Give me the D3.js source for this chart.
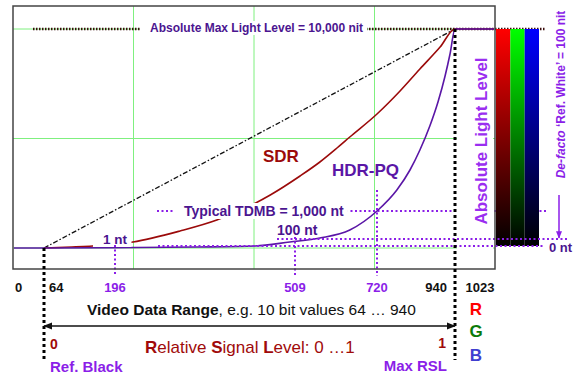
<!DOCTYPE html>
<html lang="en">
  <head>
    <meta charset="UTF-8" />
    <title>SDR vs HDR-PQ</title>
    <script src="https://cdn.jsdelivr.net/npm/d3@7"></script>
    <style>
      body { margin: 0; background: #fff; }
      text { font-family: "Liberation Sans", Arial, sans-serif; }
    </style>
  </head>
  <body>
    <svg id="chart" width="578" height="374"></svg>
    <script>
      // 10 bit code values shown on the axis (schematic spacing)
      const codeTicks = [0, 64, 196, 509, 720, 940, 1023];
      const markedCodes = [196, 509, 720];
      // light levels in nit
      const nitLevels = [0, 1, 100, 1000, 10000];
      const maxNit = 10000;
      // marker pairs: code value -> nit
      const markCodes = [196, 509, 720];
      const markNits = [1, 100, 1000];
      const markLabels = ["1 nt", "100 nt", "Typical TDMB = 1,000 nt"];

      // curves as [code value, nit]
      const pqCurve = [[0, 0], [64, 0], [196, 0.2], [340, 0.5], [440, 1], [500, 58], [573, 132],
        [650, 389], [720, 1000], [776, 2038], [813, 3027], [841, 4016], [869, 5203],
        [892, 6390], [912, 7676], [926, 8764], [940, 10000], [1023, 10000]];
      const sdrCurve = [[64, 0], [116, 0.5], [168, 8], [227, 57], [309, 357], [373, 710],
        [466, 1791], [522, 2731], [573, 3423], [617, 4115], [650, 4659], [720, 5797],
        [785, 6934], [841, 8022], [898, 9110], [940, 10000], [1023, 10000]];
      const linearRef = [[64, 0], [940, 10000]];
      const channels = ["R", "G", "B"];

      const svg = d3.select("#chart");
      const purple = "#8b1ee8", dark = "#4b1590", red = "#a00a0a";

      // piecewise scales, the drawing is not to scale
      let x = d3.scaleLinear().domain(codeTicks).range([14, 44, 115, 295, 377, 455, 494]);
      let y = d3.scaleLinear().domain(nitLevels).range([248, 246, 239, 211, 29]);
      let gx = d3.scaleLinear().domain([0, 4]).range([13, 495]);
      let gy = d3.scaleLinear().domain([0, 2]).range([y(0), y(maxNit)]);

      svg.append("rect").attr("width", 578).attr("height", 374).attr("fill", "#fff");

      // grid
      svg.append("g").selectAll("line").data([1, 2, 3]).join("line")
        .attr("x1", d => gx(d)).attr("x2", d => gx(d)).attr("y1", 6).attr("y2", 269)
        .attr("stroke", "#7ff07f").attr("stroke-width", 1);
      svg.append("g").selectAll("line").data([0, 1, 2]).join("line")
        .attr("x1", 13).attr("x2", 495).attr("y1", d => gy(d)).attr("y2", d => gy(d))
        .attr("stroke", "#7ff07f").attr("stroke-width", 1);

      // max light level line
      svg.append("line").attr("x1", 33).attr("x2", 545)
        .attr("y1", y(maxNit)).attr("y2", y(maxNit))
        .attr("stroke", "#3a0c0c").attr("stroke-width", 2.5).attr("stroke-dasharray", "1.5,1.5");

      // 1000 nt line (runs behind the bars)
      svg.append("line").attr("x1", 157).attr("x2", 547)
        .attr("y1", y(1000)).attr("y2", y(1000))
        .attr("stroke", purple).attr("stroke-width", 2).attr("stroke-dasharray", "2,2.5");

      // vertical axis title with white box
      svg.append("rect").attr("x", 457).attr("y", 45).attr("width", 36).attr("height", 206).attr("fill", "#fff");
      svg.append("text").attr("transform", `translate(487,${(y(1000) + y(maxNit)) / 2 + 21}) rotate(-90)`)
        .attr("text-anchor", "middle").attr("font-size", 17).attr("font-weight", "bold")
        .attr("fill", "#9a2ef0").text("Absolute Light Level");

      // curves
      let line = d3.line().x(d => x(d[0])).y(d => y(d[1]));
      svg.append("path").datum(linearRef).attr("d", line).attr("fill", "none")
        .attr("stroke", "#111").attr("stroke-width", 1.3).attr("stroke-dasharray", "5,2,1.5,2");
      let smooth = d3.line().x(d => x(d[0])).y(d => y(d[1])).curve(d3.curveMonotoneX);
      svg.append("path").datum(sdrCurve).attr("d", smooth).attr("fill", "none")
        .attr("stroke", "#9b0a0a").attr("stroke-width", 1.6);
      svg.append("path").datum(pqCurve).attr("d", smooth).attr("fill", "none")
        .attr("stroke", "#5a16a6").attr("stroke-width", 1.6);

      // labels with white boxes
      function boxedText(tx, ty, str, size, color) {
        let g = svg.append("g");
        let r = g.append("rect").attr("fill", "#fff");
        let t = g.append("text").attr("x", tx).attr("y", ty).attr("font-size", size)
          .attr("font-weight", "bold").attr("fill", color).text(str);
        let b = t.node().getBBox();
        r.attr("x", b.x - 10).attr("y", b.y).attr("width", b.width + 14).attr("height", b.height);
      }
      boxedText(150, 32, "Absolute Max Light Level = 10,000 nit", 12, dark);
      boxedText(103, 244, markLabels[0], 13.5, dark);
      boxedText(184, 216, markLabels[2], 14, dark);
      svg.append("text").attr("x", 277).attr("y", 235).attr("font-size", 14)
        .attr("font-weight", "bold").attr("fill", dark).text(markLabels[1]);

      svg.append("text").attr("x", 263).attr("y", 162).attr("font-size", 17)
        .attr("font-weight", "bold").attr("fill", "#9b0a0a").text("SDR");
      svg.append("text").attr("x", 332).attr("y", 176).attr("font-size", 17)
        .attr("font-weight", "bold").attr("fill", "#5a16a6").text("HDR-PQ");

      // colour bars fading to black
      let defs = svg.append("defs");
      let full = {R: "#ff0000", G: "#00ff00", B: "#0000ff"};
      channels.forEach(c => {
        let gr = defs.append("linearGradient").attr("id", "grad" + c)
          .attr("x1", 0).attr("x2", 0).attr("y1", 0).attr("y2", 1);
        gr.append("stop").attr("offset", "0%").attr("stop-color", full[c]);
        gr.append("stop").attr("offset", "100%").attr("stop-color", "#000");
      });
      let bx = d3.scaleBand().domain(channels).range([496, 539]);
      svg.append("g").selectAll("rect").data(channels).join("rect")
        .attr("x", d => bx(d)).attr("width", bx.bandwidth())
        .attr("y", y(maxNit)).attr("height", y(1) - y(maxNit))
        .attr("fill", d => `url(#grad${d})`);

      // 100 nt and 0 nt lines
      svg.append("line").attr("x1", 277).attr("x2", 567).attr("y1", y(100)).attr("y2", y(100))
        .attr("stroke", purple).attr("stroke-width", 2).attr("stroke-dasharray", "2,2.5");
      svg.append("line").attr("x1", 158).attr("x2", 543).attr("y1", y(1)).attr("y2", y(1))
        .attr("stroke", purple).attr("stroke-width", 2).attr("stroke-dasharray", "2,2.5");
      svg.append("text").attr("x", 549).attr("y", 252).attr("font-size", 13)
        .attr("font-weight", "bold").attr("fill", dark).text("0 nt");

      // vertical markers down to the code axis
      let markTop = [245, 237, 190];
      svg.append("g").selectAll("line").data(markCodes).join("line")
        .attr("x1", d => x(d)).attr("x2", d => x(d))
        .attr("y1", (d, i) => markTop[i]).attr("y2", 276)
        .attr("stroke", purple).attr("stroke-width", 2).attr("stroke-dasharray", "2,2.5");

      // frame
      svg.append("rect").attr("x", 13).attr("y", 6).attr("width", 482).attr("height", 263)
        .attr("fill", "none").attr("stroke", "#444").attr("stroke-width", 1.5);

      // black and max-level verticals
      svg.append("g").selectAll("line").data([[64, 0], [940, maxNit]]).join("line")
        .attr("x1", d => x(d[0])).attr("x2", d => x(d[0]))
        .attr("y1", d => y(d[1])).attr("y2", 360)
        .attr("stroke", "#000").attr("stroke-width", 3).attr("stroke-dasharray", "3,3");

      // code value tick labels
      let tickDx = {0: 1, 64: 5, 940: -8, 1023: -14};
      let tickAnchor = {0: "start", 64: "start", 940: "end"};
      svg.append("g").selectAll("text").data(codeTicks).join("text")
        .attr("x", d => x(d) + (tickDx[d] || 0))
        .attr("y", 292).attr("font-size", 13).attr("font-weight", "bold")
        .attr("text-anchor", d => tickAnchor[d] || "middle")
        .attr("fill", d => markedCodes.includes(d) ? purple : "#111")
        .text(d => d);

      let vt = svg.append("text").attr("x", 87).attr("y", 315).attr("font-size", 15.5).attr("fill", "#111");
      vt.append("tspan").attr("font-weight", "bold").text("Video Data Range");
      vt.append("tspan").text(", e.g. 10 bit values 64 \u2026 940");

      // relative signal level arrow
      let mk = defs.append("marker").attr("id", "arr").attr("viewBox", "0 0 10 10")
        .attr("refX", 9).attr("refY", 5).attr("markerWidth", 6).attr("markerHeight", 6)
        .attr("orient", "auto-start-reverse");
      mk.append("path").attr("d", "M0,1 L10,5 L0,9 z").attr("fill", "#111");
      svg.append("line").attr("x1", x(64)).attr("x2", x(940)).attr("y1", 326).attr("y2", 326)
        .attr("stroke", "#111").attr("stroke-width", 1.5)
        .attr("marker-start", "url(#arr)").attr("marker-end", "url(#arr)");

      svg.append("text").attr("x", 50).attr("y", 349).attr("font-size", 14)
        .attr("font-weight", "bold").attr("fill", red).text("0");
      svg.append("text").attr("x", 446).attr("y", 348).attr("font-size", 14).attr("text-anchor", "end")
        .attr("font-weight", "bold").attr("fill", red).text("1");
      let rs = svg.append("text").attr("x", 145).attr("y", 353).attr("font-size", 17).attr("fill", red);
      [["R", true], ["elative ", false], ["S", true], ["ignal ", false], ["L", true], ["evel: 0 \u20261", false]]
        .forEach(p => rs.append("tspan").attr("font-weight", p[1] ? "bold" : "normal").text(p[0]));

      svg.append("text").attr("x", 50).attr("y", 372).attr("font-size", 15)
        .attr("font-weight", "bold").attr("fill", purple).text("Ref. Black");
      svg.append("text").attr("x", 447).attr("y", 371).attr("font-size", 15).attr("text-anchor", "end")
        .attr("font-weight", "bold").attr("fill", purple).text("Max RSL");

      // R G B letters
      let letterColor = {R: "#ff0000", G: "#0a7a0a", B: "#3f3fd0"};
      let letterY = {R: 315, G: 337, B: 361};
      svg.append("g").selectAll("text").data(channels).join("text")
        .attr("x", 476).attr("y", d => letterY[d]).attr("text-anchor", "middle")
        .attr("font-size", 17).attr("font-weight", "bold")
        .attr("fill", d => letterColor[d]).text(d => d);

      // reference white note with arrow
      let dt = svg.append("text").attr("transform", "translate(565,94.5) rotate(-90)")
        .attr("text-anchor", "middle").attr("font-size", 12).attr("font-weight", "bold").attr("fill", purple);
      dt.append("tspan").attr("font-style", "italic").text("De-facto");
      dt.append("tspan").text(" \u2018Ref. White\u2019 = 100 nit");
      let mk2 = defs.append("marker").attr("id", "arrP").attr("viewBox", "0 0 10 10")
        .attr("refX", 9).attr("refY", 5).attr("markerWidth", 5).attr("markerHeight", 5)
        .attr("orient", "auto");
      mk2.append("path").attr("d", "M0,1 L10,5 L0,9 z").attr("fill", purple);
      svg.append("line").attr("x1", 559).attr("x2", 559).attr("y1", 195).attr("y2", y(100) - 1)
        .attr("stroke", purple).attr("stroke-width", 1.5).attr("marker-end", "url(#arrP)");
    </script>
  </body>
</html>
